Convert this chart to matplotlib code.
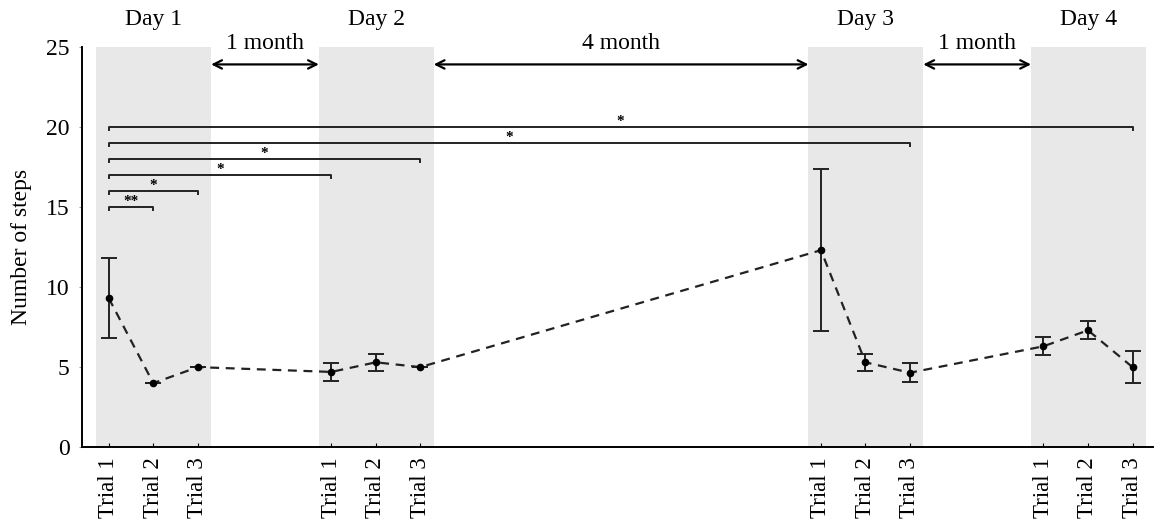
""" Number of steps per trial across four test days, with significance brackets. """
import matplotlib
matplotlib.use('Agg')
import matplotlib.pyplot as plt
import numpy as np


# data
trial_labels = ['Trial 1','Trial 2','Trial 3']*4
day_labels = ['Day 1','Day 2','Day 3','Day 4']
x_pos = [0,1,2, 5,6,7, 16,17,18, 21,22,23]
steps_mean = [9.3,4.0,5.0, 4.7,5.3,5.0, 12.3,5.3,4.65, 6.3,7.3,5.0]
steps_err = [2.5,0.0,0.0, 0.55,0.55,0.0, 5.05,0.55,0.6, 0.55,0.55,1.0]
gap_labels = ['1 month','4 month','1 month']
# significance brackets: (start idx, end idx, level, mark)
sig_start = [0,0,0,0,0,0]
sig_end = [1,2,3,5,8,11]
sig_level = [15,16,17,18,19,20]
sig_mark = ['**','*','*','*','*','*']
# fig config
fout = 'out.png'
fig_size = (11.56,5.2)
shade_color = '#e8e8e8'
fsize_tick = 16.5
fsize_label = 17
pad_l, pad_r = 0.28, 0.3


plt.rcParams['font.family'] = ['Liberation Serif','DejaVu Serif']
fig = plt.figure(figsize=fig_size, dpi=100)
ax = fig.add_axes([0.071, 0.140, 0.926, 0.770])

# day shading and labels
day_spans = []
for i, day in enumerate(day_labels):
    x0, x1 = x_pos[3*i]-pad_l, x_pos[3*i+2]+pad_r
    day_spans.append((x0,x1))
    ax.axvspan(x0, x1, color=shade_color, zorder=0, lw=0)
    ax.text((x0+x1)/2, 26.7, day, ha='center', va='center', fontsize=fsize_label, clip_on=False)

# gap arrows between days
for i, lab in enumerate(gap_labels):
    x0, x1 = day_spans[i][1], day_spans[i+1][0]
    ax.annotate('', xy=(x1,23.9), xytext=(x0,23.9),
        arrowprops=dict(arrowstyle='<->', color='k', lw=1.6, shrinkA=0, shrinkB=0,
            mutation_scale=15))
    ax.text((x0+x1)/2, 25.2, lab, ha='center', va='center', fontsize=fsize_label, clip_on=False)

# data line and error bars
ax.plot(x_pos, steps_mean, ls='--', color='#222222', lw=1.6, dashes=(4,3), zorder=2)
ax.errorbar(x_pos, steps_mean, yerr=steps_err, fmt='o', color='k', ms=4.5,
    ecolor='#222222', elinewidth=1.4, capsize=6, capthick=1.4, zorder=3)

# significance brackets
for s, e, lev, mark in zip(sig_start, sig_end, sig_level, sig_mark):
    xa, xb = x_pos[s], x_pos[e]
    ax.plot([xa,xa,xb,xb], [lev-0.25,lev,lev,lev-0.25], color='#222222', lw=1.4,
        solid_capstyle='butt', zorder=2)
    ax.text((xa+xb)/2, lev-0.05, mark, ha='center', va='bottom', fontsize=11, fontweight='bold')

ax.set_xlim(-0.6, 23.45)
ax.set_ylim(0, 25)
ax.set_yticks([0,5,10,15,20,25])
ax.set_xticks(x_pos)
ax.set_xticklabels(trial_labels, rotation=90, fontsize=fsize_tick)
ax.tick_params(axis='y', labelsize=fsize_label, length=2, color='#999999', pad=7)
ax.tick_params(axis='x', direction='in', length=3, pad=7)
ax.set_ylabel('Number of steps', fontsize=fsize_label, labelpad=10)
for sp in ['top','right']:
    ax.spines[sp].set_visible(False)
for sp in ['left','bottom']:
    ax.spines[sp].set_linewidth(1.4)

fig.savefig(fout, dpi=100)
print('wrote %s'%fout)
